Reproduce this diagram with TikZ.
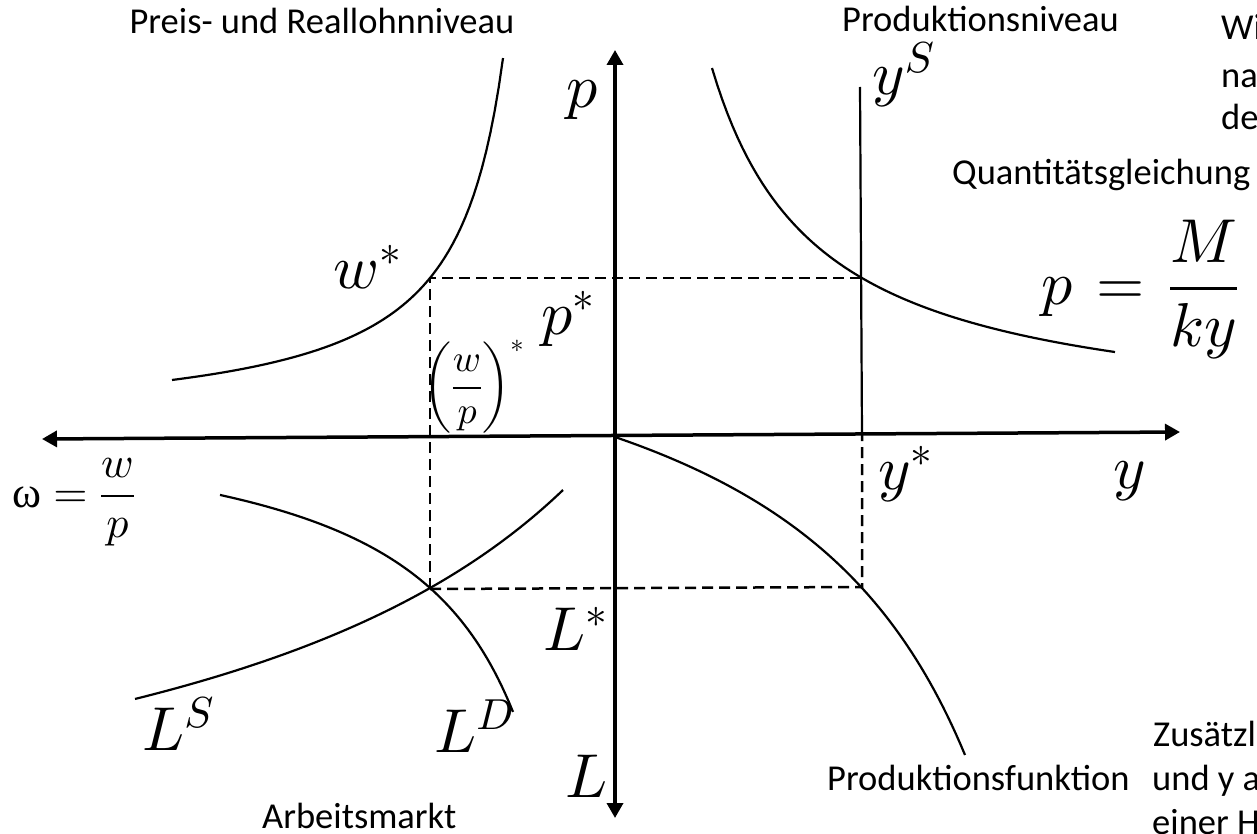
\documentclass[tikz,border=0pt]{standalone}
\usepackage[no-math]{fontspec}
\setmainfont{Carlito}
\newfontfamily\omegafont{Liberation Serif}
\DeclareFontShape{OML}{cmm}{m}{it}{<->cmmi10}{}
\DeclareFontShape{OMS}{cmsy}{m}{n}{<->cmsy10}{}
\DeclareFontShape{OMX}{cmex}{m}{n}{<->cmex10}{}
\DeclareFontShape{OT1}{cmr}{m}{n}{<->cmr10}{}
\usetikzlibrary{arrows.meta}
\tikzset{
  axisline/.style={line width=3.5pt, {Triangle[length=15pt,width=16pt]}-{Triangle[length=15pt,width=16pt]}},
  curveline/.style={line width=2.2pt},
  guide/.style={line width=2.5pt, dash pattern=on 11pt off 6pt},
  txt/.style={font=\fontsize{36.5}{44}\selectfont, inner sep=0pt},
  bigm/.style={font=\fontsize{62}{70}\selectfont, inner sep=0pt},
  midm/.style={font=\fontsize{44}{50}\selectfont, inner sep=0pt},
  smallm/.style={font=\fontsize{38}{44}\selectfont, inner sep=0pt},
}
\begin{document}
\begin{tikzpicture}[x=1pt,y=-1pt]
\useasboundingbox (0,0) rectangle (1257,834);
\clip (0,0) rectangle (1257,834);
% key coordinates
\coordinate (ptop) at (615,50);
\coordinate (Lbot) at (615,818);
\coordinate (wleft) at (42,439);
\coordinate (yright) at (1180,432);
\coordinate (O) at (615,435.5);
\coordinate (A) at (430,278);
\coordinate (B) at (862,278);
\coordinate (C) at (430,589);
\coordinate (D) at (862,587);
\coordinate (E) at (862,435);
\coordinate (ysTop) at (860,87);
% axes
\draw[axisline] (Lbot) -- (ptop);
\draw[axisline] (wleft) -- (yright);
% dashed guides
\draw[guide] (C) -- (A) -- (B);
\draw[guide] (C) -- (D) -- (E);
% vertical y^S line
\draw[curveline] (ysTop) -- (E);
% curves
\draw[curveline] plot[domain=712:1115, samples=80, variable=\x] (\x,{427-381.94/((\x-605.6)/100)});
\draw[curveline] plot[domain=172:503, samples=80, variable=\x] (\x,{428.6-185.27/((553-\x)/100)});
\draw[curveline] plot[domain=135:563, samples=80, variable=\x] (\x,{916.7-1903.0/((1009-\x)/100)});
\draw[curveline] plot[domain=220:513, samples=80, variable=\x] (\x,{403.5+380.9/((636.5-\x)/100)});
\draw[curveline] plot[domain=615:965, samples=80, variable=\x] (\x,{244.5+1081.7/((1176.9-\x)/100)});
% math labels
\node[bigm, anchor=base west] (plab) at (566,108) {$p$};
\node[bigm, anchor=base west] (wstar) at (333,288) {$w^{*}$};
\node[bigm, anchor=base west] (pstar) at (541,334) {$p^{*}$};
\node[smallm] (wpstar) at (474,387) {$\displaystyle\left(\frac{w}{p}\right)^{*}$};
\node[midm, anchor=base west] (omega) at (12,507) {$\displaystyle\mbox{\omegafont ω}=\frac{w}{p}$};
\node[bigm, anchor=base west] (ys) at (872,95) {$y^{S}$};
\node[bigm, anchor=base west] (qeq) at (1041,304) {$\displaystyle p\mkern2mu=\mkern2mu\frac{M}{ky}$};
\node[bigm, anchor=base west] (ystar) at (878,489) {$y^{*}$};
\node[bigm, anchor=base west] (ylab) at (1113,488) {$y$};
\node[bigm, anchor=base west] (Lstar) at (543,650) {$L^{*}$};
\node[bigm, anchor=base west] (Llab) at (565,797) {$L$};
\node[bigm, anchor=base west] (LS) at (142,750) {$L^{S}$};
\node[bigm, anchor=base west] (LD) at (434,752) {$L^{D}$};
% text labels
\node[txt, anchor=base] (t1) at (322,34) {Preis- und Reallohnniveau};
\node[txt, anchor=base west] (t2) at (842,32) {Produktionsniveau};
\node[txt, anchor=base west] (t3a) at (1221,40) {Wi};
\node[txt, anchor=base west] (t3b) at (1221,88) {na};
\node[txt, anchor=base west] (t3c) at (1221,130) {de};
\node[txt, anchor=base west] (t4) at (952,185) {Quantitätsgleichung};
\node[txt, anchor=base west] (t5) at (827,790) {Produktionsfunktion};
\node[txt, anchor=base west] (t6a) at (1153,746) {Zusätzl};
\node[txt, anchor=base west] (t6b) at (1152,790) {und y a};
\node[txt, anchor=base west] (t6c) at (1152,834) {einer H};
\node[txt, anchor=base west] (t7) at (262,828) {Arbeitsmarkt};
\end{tikzpicture}
\end{document}
